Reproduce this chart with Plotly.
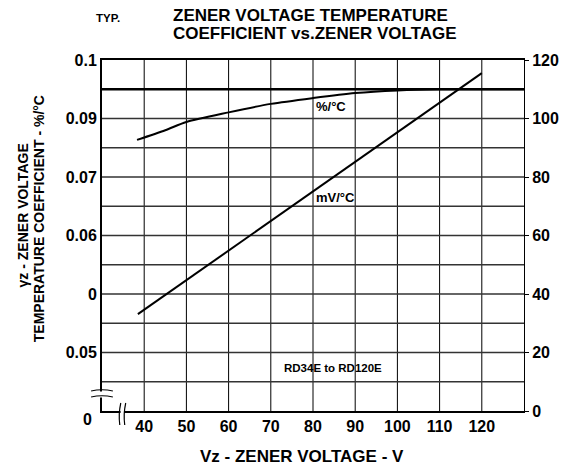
import plotly.graph_objects as go

# ---------------- data ----------------
# x axis: Zener voltage (V)
x_ticks = [40, 50, 60, 70, 80, 90, 100, 110, 120]
x_ticktext = ["40", "50", "60", "70", "80", "90", "100", "110", "120"]
x_grid = [40, 50, 60, 70, 80, 90, 100, 110, 120]

# left axis labels (as printed on the original) placed at chart grid values
left_tickvals = [20, 40, 60, 80, 100, 120]
left_ticktext = ["0.05", "0", "0.06", "0.07", "0.09", "0.1"]
left_origin_label = "0"

# horizontal grid (chart units, shared by both y scales)
y_grid = [10, 20, 30, 40, 50, 60, 70, 80, 90, 100]
y_grid_strong = 110

# right axis: mV/°C
right_tickvals = [0, 20, 40, 60, 80, 100, 120]
right_ticktext = ["0", "20", "40", "60", "80", "100", "120"]

# %/°C curve (in chart grid units, 0..120 scale)
pct_vz = [38.3, 45, 50, 60, 70, 80, 90, 100, 110, 120, 130]
pct_val = [92.7, 96.0, 98.8, 102.1, 105.0, 107.0, 108.7, 109.6, 110.0, 110.0, 110.0]

# mV/°C line (right axis)
mv_vz = [38.5, 120]
mv_val = [33.1, 115.5]

# ---------------- layout geometry ----------------
# the page body has an 8px margin, so the figure is laid out 8px smaller
OFF = 8
W, H = 571 - OFF, 470 - OFF
L, R, T, B = 102, 529, 60, 411          # target pixel positions in the window
PW, PH = R - L, B - T


def px(xp):
    return (xp - L) / PW


def py(yp):
    return (B - yp) / PH


FONT = "Liberation Sans, Arial, Helvetica, sans-serif"

fig = go.Figure()

fig.add_trace(go.Scatter(
    x=pct_vz, y=pct_val, mode="lines", yaxis="y",
    line=dict(color="black", width=2, shape="spline", smoothing=0.8),
    showlegend=False, hoverinfo="skip"))

fig.add_trace(go.Scatter(
    x=mv_vz, y=mv_val, mode="lines", yaxis="y2",
    line=dict(color="black", width=2),
    showlegend=False, hoverinfo="skip"))

fig.update_layout(
    width=W, height=H,
    margin=dict(l=L - OFF, r=571 - R, t=T - OFF, b=470 - B, pad=0),
    paper_bgcolor="white", plot_bgcolor="white",
    font=dict(family=FONT, color="black"),
    xaxis=dict(
        range=[30, 130], tickvals=x_ticks, ticktext=x_ticktext,
        showgrid=False,
        showline=True, linecolor="black", linewidth=2, mirror=True,
        ticks="", ticklabelstandoff=0, zeroline=False,
        tickfont=dict(size=16, family=FONT, weight="bold", color="black"),
    ),
    yaxis=dict(
        range=[0, 120], tickvals=left_tickvals, ticktext=left_ticktext,
        showgrid=False,
        showline=True, linecolor="black", linewidth=2, mirror=False,
        ticks="", ticklabelstandoff=0, zeroline=False,
        tickfont=dict(size=16, family=FONT, weight="bold", color="black"),
    ),
    yaxis2=dict(
        range=[0, 120], overlaying="y", side="right",
        tickvals=right_tickvals, ticktext=right_ticktext,
        showgrid=False, showline=True, linecolor="black", linewidth=1,
        ticks="outside", ticklen=4, tickcolor="black", zeroline=False,
        tickfont=dict(size=16, family=FONT, weight="bold", color="black"),
    ),
)

shapes = []
# grid lines, placed through the axes' own scales
for v in x_grid:
    shapes.append(dict(type="line", xref="x", yref="paper", x0=v, x1=v, y0=0, y1=1,
                       line=dict(color="black", width=1), layer="below"))
for v in y_grid:
    shapes.append(dict(type="line", xref="paper", yref="y", x0=0, x1=1, y0=v, y1=v,
                       line=dict(color="#333333", width=1.6), layer="below"))
shapes.append(dict(type="line", xref="paper", yref="y", x0=0, x1=1,
                   y0=y_grid_strong, y1=y_grid_strong,
                   line=dict(color="black", width=2.5), layer="below"))

# axis break gaps (white) and break marks
shapes.append(dict(type="rect", xref="paper", yref="paper",
                   x0=px(98), x1=px(106), y0=py(397.5), y1=py(391.5),
                   fillcolor="white", line=dict(width=0), layer="above"))
shapes.append(dict(type="rect", xref="paper", yref="paper",
                   x0=px(120.8), x1=px(124.2), y0=py(415), y1=py(407),
                   fillcolor="white", line=dict(width=0), layer="above"))


def path_px(pts):
    (x0, y0), (xc, yc), (x1, y1) = pts
    return f"M {px(x0)},{py(y0)} Q {px(xc)},{py(yc)} {px(x1)},{py(y1)}"


for pts in [((91, 391), (102, 388.5), (113, 391)),
            ((91, 397), (102, 394.5), (113, 397)),
            ((121, 403), (118.5, 414), (120, 425)),
            ((126, 403), (123.5, 414), (125, 425))]:
    shapes.append(dict(type="path", xref="paper", yref="paper", path=path_px(pts),
                       line=dict(color="black", width=1.2), layer="above"))

fig.update_layout(shapes=shapes)

ann = []


def add_text(text, xp, yp, size, xanchor="center", yanchor="middle", angle=0, align="center"):
    ann.append(dict(text=text, x=px(xp), y=py(yp), xref="paper", yref="paper",
                    xanchor=xanchor, yanchor=yanchor, textangle=angle, align=align,
                    showarrow=False,
                    font=dict(size=size, family=FONT, weight="bold", color="black")))


add_text("ZENER VOLTAGE TEMPERATURE", 172, 15.0, 17, xanchor="left")
add_text("COEFFICIENT vs.ZENER VOLTAGE", 172, 33.3, 17, xanchor="left")
add_text("TYP.", 108, 17.5, 11.5)
add_text("Vz - ZENER VOLTAGE - V", 304, 456, 17)
add_text("γz - ZENER VOLTAGE", 22.5, 215, 14, angle=-90)
add_text("TEMPERATURE COEFFICIENT - %/°C", 38.5, 219, 14, angle=-90)
add_text(left_origin_label, 87.5, 420, 16)
add_text("%/°C", 333.5, 106.7, 13)
add_text("mV/°C", 338.3, 197.5, 13)
add_text("RD34E to RD120E", 336, 367.5, 11.5)

fig.update_layout(annotations=ann)

fig.write_html("out.html")
